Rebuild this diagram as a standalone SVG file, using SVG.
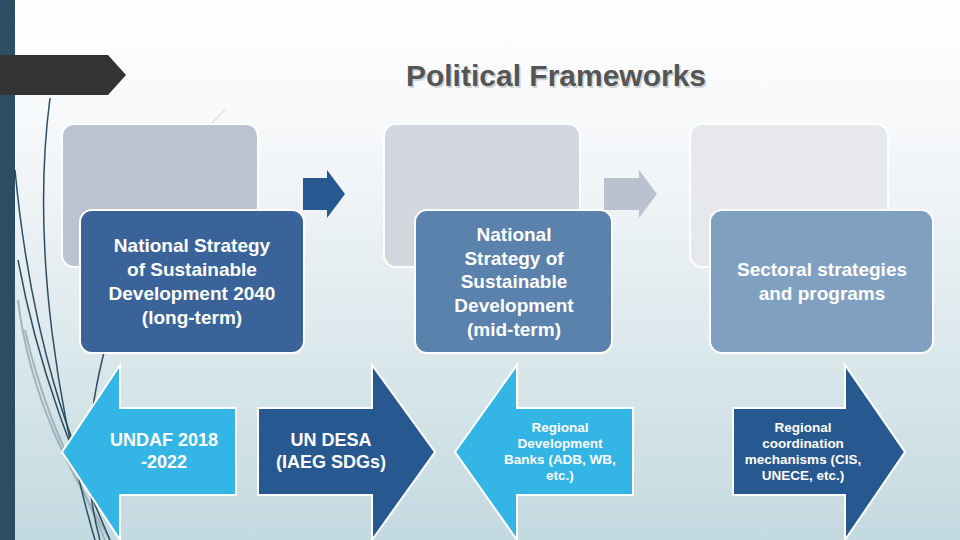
<svg xmlns="http://www.w3.org/2000/svg" width="960" height="540" viewBox="0 0 960 540">
<defs>
<linearGradient id="bg" x1="0" y1="0" x2="0" y2="1"><stop offset="0" stop-color="#ffffff"/><stop offset="0.3" stop-color="#f3f6f8"/><stop offset="1" stop-color="#c3dae0"/></linearGradient>
<style>
.t{font-family:"Liberation Sans",Arial,sans-serif;font-weight:bold;fill:#fff;text-anchor:middle}
.box{stroke:#fff;stroke-width:2}
.curve{fill:none;stroke:#2d4e62;stroke-width:1.5}
.curve2{fill:none;stroke:#9fb3bd;stroke-width:2}
</style>
</defs>
<rect width="960" height="540" fill="url(#bg)"/>
<rect x="0" y="0" width="15" height="540" fill="#2d4e62"/>
<g id="decor">
<path class="curve2" d="M18 300 C30 400 70 470 110 540"/>
<path class="curve2" d="M25 330 C45 420 80 480 105 540"/>
<path class="curve" d="M50 98 C30 250 60 420 95 540"/>
<path class="curve" d="M15 170 C30 330 70 460 120 540"/>
<path class="curve" d="M18 260 C40 380 80 470 110 540"/>
<path class="curve" d="M110 330 C90 400 80 470 100 540"/>
<path d="M225 110 L210 125" stroke="#ccc" stroke-width="1"/>
</g>
<g id="tab"><polygon points="0,55 108,55 126,75 108,95 0,95" fill="#333"/></g>
<g id="title"><text x="556" y="86" class="t" style="font-size:30px;fill:#cfd3d6" dx="1.5" dy="1.5">Political Frameworks</text><text x="556" y="86" class="t" style="font-size:30px;fill:#555">Political Frameworks</text></g>
<g id="back1"><rect class="box" x="62" y="124" width="196" height="143" rx="12" fill="#bcc3d0"/></g>
<g id="back2"><rect class="box" x="384" y="124" width="196" height="143" rx="12" fill="#d1d6df"/></g>
<g id="back3"><rect class="box" x="690" y="124" width="198" height="143" rx="12" fill="#e7e8ec"/></g>
<g id="connectors">
<polygon points="303,178 327,178 327,170 345,194 327,218 327,210 303,210" fill="#285890"/>
<polygon points="604,178 639,178 639,170 657,194 639,218 639,210 604,210" fill="#bac2cf"/>
</g>
<g id="n1"><rect class="box" x="80" y="210" width="224" height="143" rx="12" fill="#3a6399"/>
<text class="t" font-size="19"><tspan x="192" y="252">National Strategy</tspan><tspan x="192" y="276">of Sustainable</tspan><tspan x="192" y="300">Development 2040</tspan><tspan x="192" y="324">(long-term)</tspan></text></g>
<g id="n2"><rect class="box" x="415" y="210" width="197" height="143" rx="12" fill="#5a82ad"/>
<text class="t" font-size="19"><tspan x="514" y="241">National</tspan><tspan x="514" y="265">Strategy of</tspan><tspan x="514" y="288">Sustainable</tspan><tspan x="514" y="312">Development</tspan><tspan x="514" y="336">(mid-term)</tspan></text></g>
<g id="n3"><rect class="box" x="710" y="210" width="223" height="143" rx="12" fill="#7fa0c0"/>
<text class="t" font-size="19"><tspan x="822" y="276">Sectoral strategies</tspan><tspan x="822" y="300">and programs</tspan></text></g>
<g id="a1"><polygon class="box" points="62,452 120,365 120,408 236,408 236,495 120,495 120,540" fill="#33b5e6"/>
<text class="t" font-size="18"><tspan x="164" y="446">UNDAF 2018</tspan><tspan x="164" y="468">-2022</tspan></text></g>
<g id="a2"><polygon class="box" points="258,408 372,408 372,365 435,452 372,540 372,495 258,495" fill="#285890"/>
<text class="t" font-size="18"><tspan x="331" y="446">UN DESA</tspan><tspan x="331" y="468">(IAEG SDGs)</tspan></text></g>
<g id="a3"><polygon class="box" points="455,452 517,365 517,408 633,408 633,495 517,495 517,540" fill="#33b5e6"/>
<text class="t" font-size="13.5"><tspan x="560" y="432">Regional</tspan><tspan x="560" y="448">Development</tspan><tspan x="560" y="464">Banks (ADB, WB,</tspan><tspan x="560" y="480">etc.)</tspan></text></g>
<g id="a4"><polygon class="box" points="733,408 845,408 845,365 905,452 845,540 845,495 733,495" fill="#285890"/>
<text class="t" font-size="13.5"><tspan x="803" y="432">Regional</tspan><tspan x="803" y="448">coordination</tspan><tspan x="803" y="464">mechanisms (CIS,</tspan><tspan x="803" y="480">UNECE, etc.)</tspan></text></g>
</svg>
